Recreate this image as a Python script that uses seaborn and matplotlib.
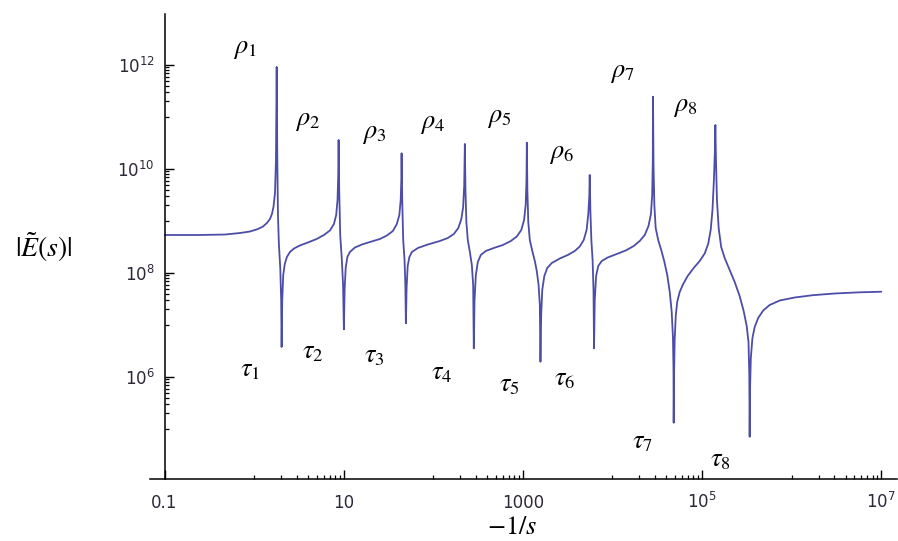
import numpy as np
import pandas as pd
import matplotlib
matplotlib.use("Agg")
import matplotlib.pyplot as plt
import seaborn as sns
from matplotlib.ticker import FixedLocator, NullFormatter

# ---------------- data ----------------
# log10(-1/s)
log_s = [
    # plateau -> rho1
    -0.994, -0.604, -0.325, -0.158, -0.046, 0.043, 0.099, 0.143, 0.177,
    0.199, 0.216, 0.233, 0.244, 0.252,
    # rho1 -> tau1
    0.258, 0.266, 0.277, 0.292, 0.302, 0.307,
    # tau1 -> rho2
    0.314, 0.325, 0.342, 0.366, 0.400, 0.445, 0.511, 0.601, 0.698, 0.779,
    0.846, 0.891, 0.916, 0.931, 0.939, 0.943,
    # rho2 -> tau2
    0.950, 0.961, 0.978, 0.993, 1.002,
    # tau2 -> rho3
    1.010, 1.022, 1.041, 1.069, 1.125, 1.203, 1.292, 1.404, 1.482, 1.549,
    1.593, 1.621, 1.636, 1.643, 1.646,
    # rho3 -> tau3
    1.653, 1.664, 1.679, 1.688, 1.694,
    # tau3 -> rho4
    1.702, 1.714, 1.733, 1.761, 1.828, 1.939, 2.073, 2.162, 2.229, 2.279,
    2.313, 2.333, 2.345, 2.352,
    # rho4 -> tau4
    2.359, 2.369, 2.385, 2.408, 2.430, 2.445, 2.452,
    # tau4 -> rho5
    2.460, 2.475, 2.497, 2.530, 2.586, 2.675, 2.776, 2.865, 2.932, 2.982,
    3.013, 3.031, 3.040, 3.044,
    # rho5 -> tau5
    3.050, 3.060, 3.077, 3.105, 3.133, 3.155, 3.175, 3.189, 3.196,
    # tau5 -> rho6
    3.204, 3.216, 3.239, 3.272, 3.322, 3.412, 3.501, 3.579, 3.635, 3.679,
    3.711, 3.730, 3.741, 3.746,
    # rho6 -> tau6
    3.753, 3.764, 3.778, 3.788, 3.794,
    # tau6 -> rho7
    3.802, 3.817, 3.841, 3.880, 3.947, 4.047, 4.148, 4.237, 4.304, 4.360,
    4.402, 4.429, 4.443, 4.450, 4.452,
    # rho7 -> tau7
    4.458, 4.467, 4.482, 4.510, 4.544, 4.577, 4.611, 4.639, 4.661, 4.675,
    4.681, 4.683,
    # tau7 -> rho8
    4.687, 4.694, 4.706, 4.722, 4.750, 4.789, 4.839, 4.906, 4.973, 5.029,
    5.068, 5.096, 5.116, 5.132, 5.143, 5.148,
    # rho8 -> tau8
    5.155, 5.166, 5.185, 5.213, 5.252, 5.308, 5.364, 5.419, 5.464, 5.498,
    5.518, 5.527, 5.531,
    # tau8 -> end
    5.535, 5.544, 5.562, 5.587, 5.626, 5.682, 5.754, 5.866, 6.033, 6.234,
    6.479, 6.758, 7.000,
]
# log10(|E(s)|)
log_E = [
    8.731, 8.731, 8.740, 8.769, 8.798, 8.846, 8.894, 8.962, 9.038,
    9.135, 9.269, 9.538, 10.173, 11.962,
    10.365, 9.115, 8.538, 8.096, 7.481, 6.577,
    7.481, 7.962, 8.173, 8.308, 8.404, 8.471, 8.529, 8.587, 8.654, 8.731,
    8.817, 8.942, 9.115, 9.404, 9.885, 10.558,
    9.596, 8.731, 8.288, 7.769, 6.917,
    7.673, 8.096, 8.308, 8.404, 8.490, 8.548, 8.596, 8.654, 8.721, 8.808,
    8.942, 9.115, 9.404, 9.788, 10.302,
    9.404, 8.635, 8.250, 7.769, 7.033,
    7.712, 8.135, 8.308, 8.404, 8.481, 8.548, 8.615, 8.673, 8.750, 8.865,
    9.038, 9.269, 9.692, 10.481,
    9.596, 8.981, 8.635, 8.404, 8.154, 7.769, 6.552,
    7.481, 7.962, 8.212, 8.346, 8.423, 8.481, 8.538, 8.615, 8.702, 8.827,
    9.019, 9.308, 9.788, 10.506,
    9.596, 8.981, 8.635, 8.423, 8.231, 8.038, 7.769, 7.385, 6.294,
    7.192, 7.673, 7.942, 8.096, 8.192, 8.279, 8.346, 8.423, 8.510, 8.635,
    8.827, 9.135, 9.481, 9.885,
    9.212, 8.635, 8.250, 7.673, 6.552,
    7.481, 7.942, 8.135, 8.231, 8.298, 8.365, 8.433, 8.519, 8.615, 8.731,
    8.904, 9.135, 9.500, 10.173, 11.390,
    10.077, 9.308, 8.865, 8.635, 8.442, 8.231, 7.962, 7.635, 7.250, 6.750,
    6.135, 5.121,
    6.038, 6.712, 7.173, 7.442, 7.635, 7.788, 7.942, 8.096, 8.231, 8.375,
    8.558, 8.827, 9.212, 9.788, 10.365, 10.846,
    10.173, 9.404, 8.865, 8.500, 8.288, 8.058, 7.827, 7.558, 7.269, 6.981,
    6.673, 6.038, 4.852,
    5.750, 6.365, 6.750, 6.962, 7.135, 7.279, 7.385, 7.471, 7.529, 7.573,
    7.606, 7.629, 7.640,
]

pole_labels = [r"$\rho_1$", r"$\rho_2$", r"$\rho_3$", r"$\rho_4$",
               r"$\rho_5$", r"$\rho_6$", r"$\rho_7$", r"$\rho_8$"]
zero_labels = [r"$\tau_1$", r"$\tau_2$", r"$\tau_3$", r"$\tau_4$",
               r"$\tau_5$", r"$\tau_6$", r"$\tau_7$", r"$\tau_8$"]

x_major = [0.1, 10, 1000, 1e5, 1e7]
x_major_labels = ["0.1", "10", "1000", r"$10^{5}$", r"$10^{7}$"]
y_major = [1e6, 1e8, 1e10, 1e12]
y_major_labels = [r"$10^{6}$", r"$10^{8}$", r"$10^{10}$", r"$10^{12}$"]

x_label = r"$-1/s$"
y_label = r"$|\tilde{E}(s)|$"

# ---------------- layout (positions, not data) ----------------
pole_label_pos = [(-0.102, 12.327), (0.595, 10.942), (1.337, 10.692),
                  (1.995, 10.885), (2.731, 11.000), (3.431, 10.308),
                  (4.114, 11.865), (4.817, 11.212)]
zero_label_pos = [(-0.046, 6.154), (0.651, 6.500), (1.348, 6.423),
                  (2.095, 6.096), (2.854, 5.865), (3.467, 5.981),
                  (4.337, 4.769), (5.205, 4.423)]

sns.set_style("white")
plt.rcParams["font.family"] = ["DejaVu Sans"]
plt.rcParams["mathtext.fontset"] = "dejavusans"

fig = plt.figure(figsize=(8.98, 5.41), dpi=100)
ax = fig.add_axes([0.16704, 0.11516, 0.8318, 0.85896])

df = pd.DataFrame({"x": np.power(10.0, log_s), "E": np.power(10.0, log_E)})
sns.lineplot(data=df, x="x", y="E", ax=ax, color="#4d4da8", linewidth=1.3,
             sort=False, estimator=None)

ax.set_xscale("log")
ax.set_yscale("log")
ax.set_xlim(10 ** -1.162, 10 ** 7.175)
ax.set_ylim(10 ** 4.045, 10 ** 12.98)

for side in ("top", "right"):
    ax.spines[side].set_visible(False)
ax.spines["left"].set_position(("data", 0.1))
for side in ("left", "bottom"):
    ax.spines[side].set_color("black")
    ax.spines[side].set_linewidth(1.1)

ax.xaxis.set_major_locator(FixedLocator(x_major))
ax.set_xticklabels(x_major_labels)
ax.xaxis.set_minor_locator(FixedLocator(
    [k * 10.0 ** e for e in (0, 2, 4, 6) for k in range(1, 10)]))
ax.xaxis.set_minor_formatter(NullFormatter())

ax.yaxis.set_major_locator(FixedLocator(y_major))
ax.set_yticklabels(y_major_labels)
ax.yaxis.set_minor_locator(FixedLocator(
    [k * 10.0 ** e for e in (5, 7, 9, 11) for k in range(1, 10)]))
ax.yaxis.set_minor_formatter(NullFormatter())

tick_color = "#2e2838"
ax.tick_params(which="both", bottom=True, left=True, top=False, right=False)
ax.tick_params(which="major", direction="in", length=6.3, width=1.0,
               color="black", labelsize=12, labelcolor=tick_color)
ax.tick_params(which="minor", direction="in", length=2.7, width=0.9,
               color="black")
ax.tick_params(axis="x", which="major", pad=21)
ax.tick_params(axis="y", which="major", pad=7)
for lab in ax.get_xticklabels():
    lab.set_verticalalignment("baseline")

ax.set_xlabel(x_label, fontsize=19, math_fontfamily="stix", va="center",
              ha="center", color="black")
ax.xaxis.set_label_coords(0.4846, -0.1039)
ax.set_ylabel(y_label, fontsize=20, math_fontfamily="stix", rotation=0,
              va="center", ha="center", color="black")
ax.yaxis.set_label_coords(-0.1426, 0.4986)

for lab, (lx, ly) in zip(pole_labels, pole_label_pos):
    ax.text(10 ** lx, 10 ** ly, lab, fontsize=19, math_fontfamily="stix",
            ha="center", va="center", color="black")
for lab, (lx, ly) in zip(zero_labels, zero_label_pos):
    ax.text(10 ** lx, 10 ** ly, lab, fontsize=19, math_fontfamily="stix",
            ha="center", va="center", color="black")

fig.savefig("out.png", dpi=100)
